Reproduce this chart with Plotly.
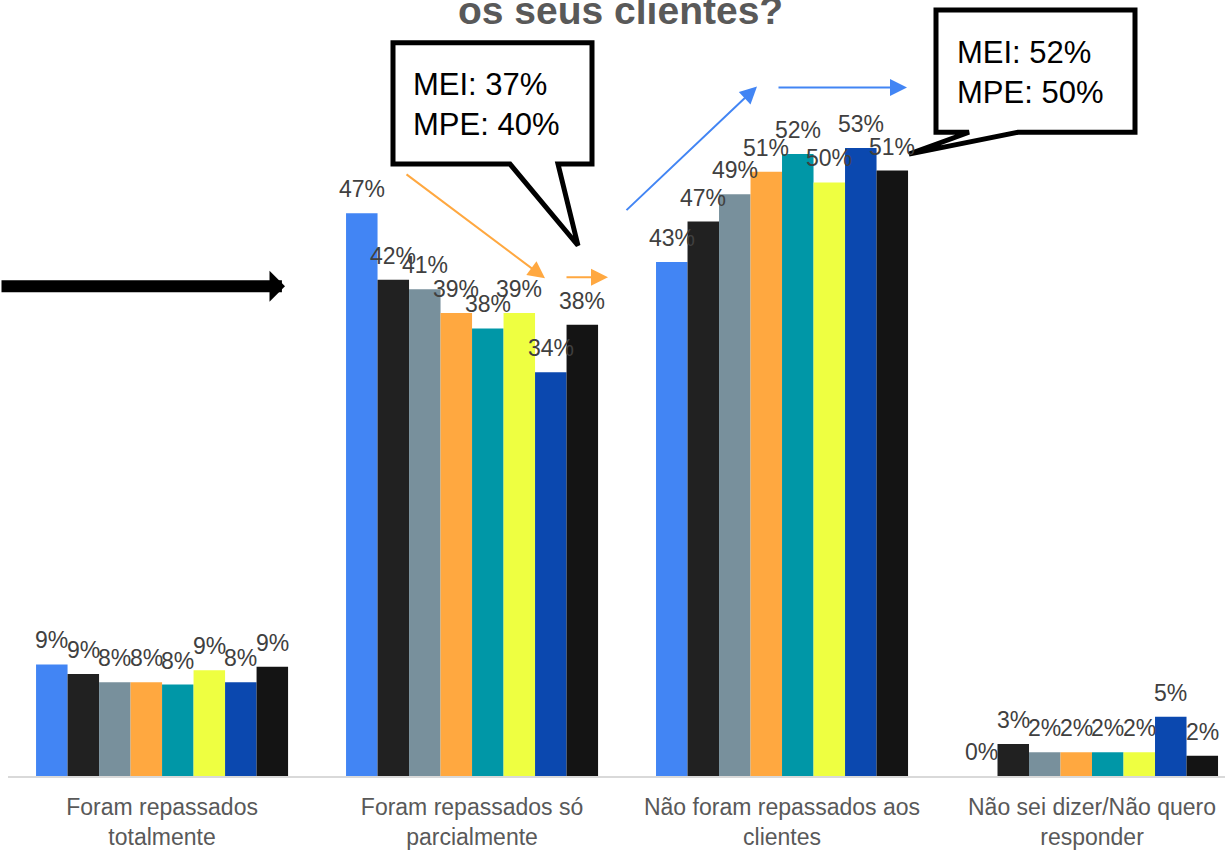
import plotly.graph_objects as go

categories = ["Foram repassados<br>totalmente",
              "Foram repassados só<br>parcialmente",
              "Não foram repassados aos<br>clientes",
              "Não sei dizer/Não quero<br>responder"]

series_names = ["Onda 1", "Onda 2", "Onda 3", "Onda 4",
                "Onda 5", "Onda 6", "Onda 7", "Onda 8"]
s1 = [9.4, 47.4, 43.3, 0.0]
s2 = [8.6, 41.8, 46.7, 2.7]
s3 = [7.9, 41.0, 49.0, 2.0]
s4 = [7.9, 39.0, 50.9, 2.0]
s5 = [7.7, 37.7, 52.4, 2.0]
s6 = [8.9, 39.0, 50.0, 2.0]
s7 = [7.9, 34.0, 52.9, 5.0]
s8 = [9.2, 38.0, 51.0, 1.7]
series_values = [s1, s2, s3, s4, s5, s6, s7, s8]
colors = ["#4285F4", "#212121", "#78909C", "#FFA840",
          "#0097A7", "#EEFF41", "#0B48AF", "#141414"]

W, H = 1225, 850
# plot box in page pixels: left 8, right 1225, top 20, bottom 781
ML, MR, MT, MB = 8, 0, 20, 69
XR = [-0.497, 3.429]
YR = [0, 63.68]
BARGAP = 0.187

fig = go.Figure()
for name, vals, col in zip(series_names, series_values, colors):
    fig.add_trace(go.Bar(x=categories, y=vals, name=name, marker_color=col,
                         marker_line_width=0, showlegend=False))

plot_w = W - ML - MR
plot_h = H - MT - MB
px_per_cat = plot_w / (XR[1] - XR[0])
bar_w = px_per_cat * (1 - BARGAP) / len(series_values)

annotations = []
n = len(series_values)
for i, vals in enumerate(series_values):
    for cat, v in zip(categories, vals):
        annotations.append(dict(
            x=cat, y=v, xref="x", yref="y", text=f"{v:.0f}%",
            showarrow=False, yanchor="bottom", xanchor="center",
            xshift=(i - (n - 1) / 2) * bar_w, yshift=9,
            font=dict(family="Liberation Sans, Arial", size=23, color="#404040")))

# page pixel -> paper coords
def px(x):
    return (x - ML) / plot_w

def py(y):
    return (H - MB - y) / plot_h

# title (partially cut off at top)
annotations.append(dict(x=px(620), y=py(34), xref="paper", yref="paper",
                        text="<b>os seus clientes?</b>", showarrow=False,
                        xanchor="center", yanchor="bottom",
                        font=dict(family="Liberation Sans, Arial", size=39, color="#595959")))

# callout texts
for (x0, y0, txt) in [(411, 105, "MEI: 37%<br>MPE: 40%"),
                      (955, 73, "MEI: 52%<br>MPE: 50%")]:
    annotations.append(dict(x=px(x0), y=py(y0), xref="paper", yref="paper",
                            text=txt, showarrow=False, xanchor="left", yanchor="middle",
                            align="left",
                            font=dict(family="Liberation Sans, Arial", size=31, color="#000000")))

# arrows: (tip_x, tip_y, tail_x, tail_y, color, width, head, size)
arrows = [
    (285, 288, -10, 288, "#000000", 12, 1, 0.43),
    (545, 280, 405, 175, "#FFA840", 2, 2, 1.7),
    (608, 279, 565, 279, "#FFA840", 2, 2, 1.7),
    (757, 87, 625, 212, "#4285F4", 2, 2, 1.7),
    (907, 88, 777, 88, "#4285F4", 2, 2, 1.7),
]
for tx, ty, sx, sy, col, wdt, head, size in arrows:
    annotations.append(dict(x=px(tx), y=py(ty), xref="paper", yref="paper",
                            ax=sx - tx, ay=sy - ty, axref="pixel", ayref="pixel",
                            text="", showarrow=True, arrowhead=head, arrowsize=size,
                            arrowwidth=wdt, arrowcolor=col, standoff=0, startstandoff=0))

def path(points):
    return "M " + " L ".join(f"{px(x):.5f},{py(y):.5f}" for x, y in points) + " Z"

shapes = [
    dict(type="path", xref="paper", yref="paper",
         path=path([(393, 43), (592, 43), (592, 165), (558, 165), (578, 247),
                    (510, 165), (393, 165)]),
         line=dict(color="#000000", width=5), fillcolor="#FFFFFF", layer="above"),
    dict(type="path", xref="paper", yref="paper",
         path=path([(936, 10), (1135, 10), (1135, 133), (1018, 133), (909, 155),
                    (969, 133), (936, 133)]),
         line=dict(color="#000000", width=5), fillcolor="#FFFFFF", layer="above"),
]

fig.update_layout(
    width=W, height=H, autosize=False,
    margin=dict(l=ML, r=MR, t=MT, b=MB, pad=0),
    paper_bgcolor="#FFFFFF", plot_bgcolor="#FFFFFF",
    barmode="group", bargap=BARGAP, bargroupgap=0,
    xaxis=dict(range=XR, showgrid=False, showline=True, linecolor="#D9D9D9",
               linewidth=2, ticks="", zeroline=False, ticklabelstandoff=9,
               tickfont=dict(family="Liberation Sans, Arial", size=23, color="#595959")),
    yaxis=dict(range=YR, visible=False, showgrid=False, zeroline=False),
    annotations=annotations, shapes=shapes,
    font=dict(family="Liberation Sans, Arial"),
)

fig.write_html("out.html", config={"displayModeBar": False},
               post_script="document.body.style.margin='0';document.body.style.overflow='hidden';")
